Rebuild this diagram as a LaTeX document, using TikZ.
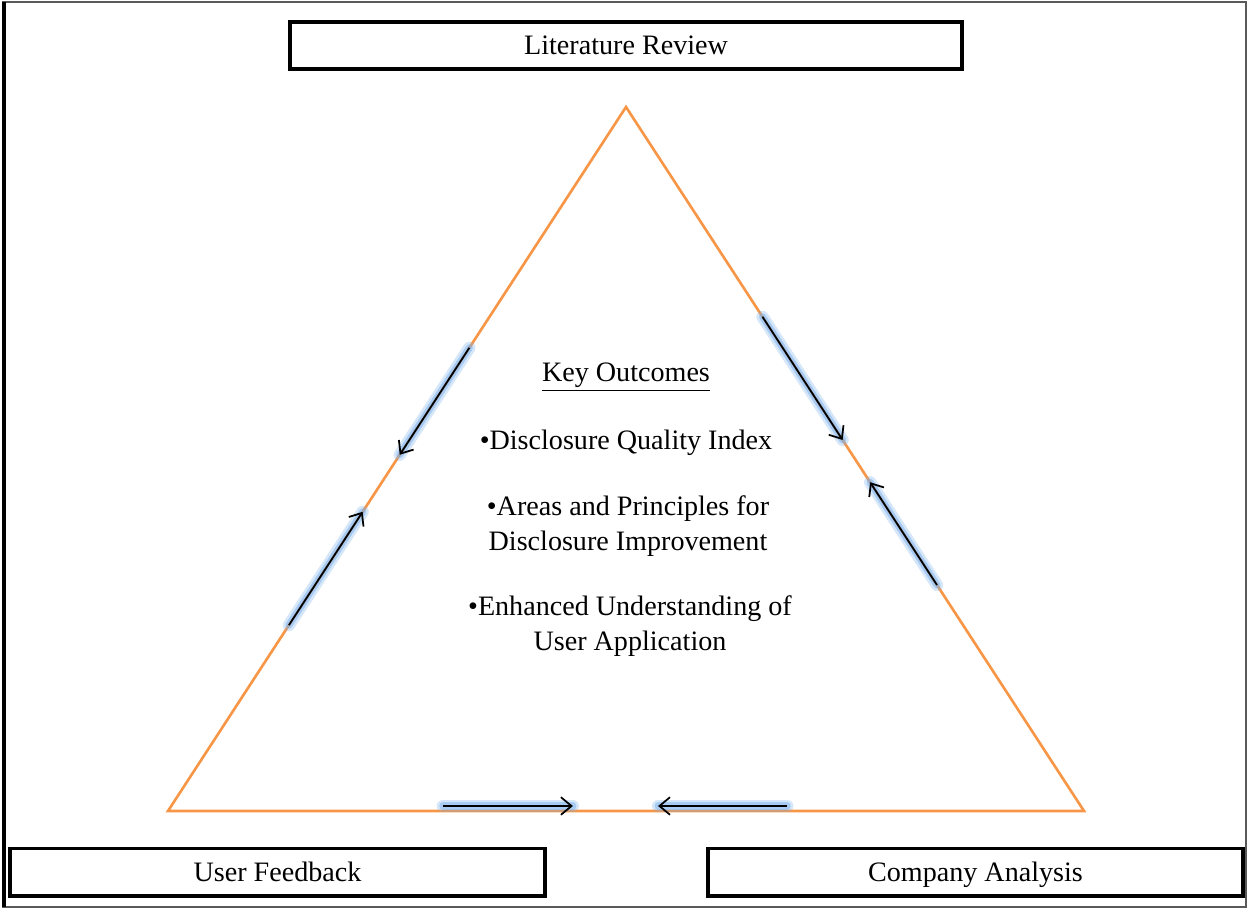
\documentclass[tikz,border=0pt]{standalone}
\usepackage{fontspec}
\setmainfont{Liberation Serif}
\usetikzlibrary{calc,arrows.meta}
\definecolor{sideorange}{RGB}{247,150,70}
\definecolor{glowblue}{RGB}{120,175,235}
\tikzset{
  stagebox/.style={draw=black, line width=2pt, fill=white, minimum height=0.95cm,
    font=\fontsize{16}{19}\selectfont, text height=12pt, text depth=1.4pt, inner sep=0pt},
  outcome/.style={font=\fontsize{16}{19.5}\selectfont, align=center, inner sep=0pt},
  flow/.style={-{Straight Barb[length=6pt,width=10pt]}, line width=1pt, black,
    preaction={draw=glowblue, line width=7pt, opacity=0.3, -, line cap=round},
    preaction={draw=glowblue, line width=4pt, opacity=0.5, -, line cap=round}},
}
\begin{document}
\begin{tikzpicture}[x=0.02cm, y=-0.02cm]
      \useasboundingbox (0,0) rectangle (1248,909);
      % Frame
      \draw[black!65, line width=0.8pt] (3,2) rectangle (1246,907);
      \draw[black, line width=1.8pt] (4,2) -- (4,907);

      % Boxes
      \node[stagebox, minimum width=13.44cm] (lit) at (626,45.5) {Literature Review};
      \node[stagebox, minimum width=10.7cm] (user) at (277.5,872) {User Feedback};
      \node[stagebox, minimum width=10.7cm] (comp) at (975.5,872) {Company Analysis};

      % Triangle
      \coordinate (apex) at (626,107);
      \coordinate (left) at (168,811);
      \coordinate (right) at (1084,811);
      \draw[sideorange, line width=1.5pt, line join=miter] (apex) -- (left) -- (right) -- cycle;

      % Arrows along the sides
      \coordinate (l1) at ($(apex)!0.342!(left)$);
      \coordinate (l2) at ($(apex)!0.494!(left)$);
      \coordinate (l3) at ($(apex)!0.736!(left)$);
      \coordinate (l4) at ($(apex)!0.575!(left)$);
      \coordinate (r1) at ($(apex)!0.298!(right)$);
      \coordinate (r2) at ($(apex)!0.473!(right)$);
      \coordinate (r3) at ($(apex)!0.679!(right)$);
      \coordinate (r4) at ($(apex)!0.533!(right)$);
      \coordinate (b1) at ($(left)!0.300!(right)+(0,-5)$);
      \coordinate (b2) at ($(left)!0.442!(right)+(0,-5)$);
      \coordinate (b3) at ($(left)!0.676!(right)+(0,-5)$);
      \coordinate (b4) at ($(left)!0.535!(right)+(0,-5)$);
      \draw[flow] (l1) -- (l2);
      \draw[flow] (l3) -- (l4);
      \draw[flow] (r1) -- (r2);
      \draw[flow] (r3) -- (r4);
      \draw[flow] (b1) -- (b2);
      \draw[flow] (b3) -- (b4);

      % Key outcomes
      \node[outcome] (key) at (626,377) {\underline{Key Outcomes}};
      \node[outcome] (dqi) at (626,443) {\textbullet Disclosure Quality Index};
      \node[outcome] (areas) at (628,526) {\textbullet Areas and Principles for\\Disclosure Improvement};
      \node[outcome] (under) at (630,626) {\textbullet Enhanced Understanding of\\User Application};
\end{tikzpicture}
\end{document}
